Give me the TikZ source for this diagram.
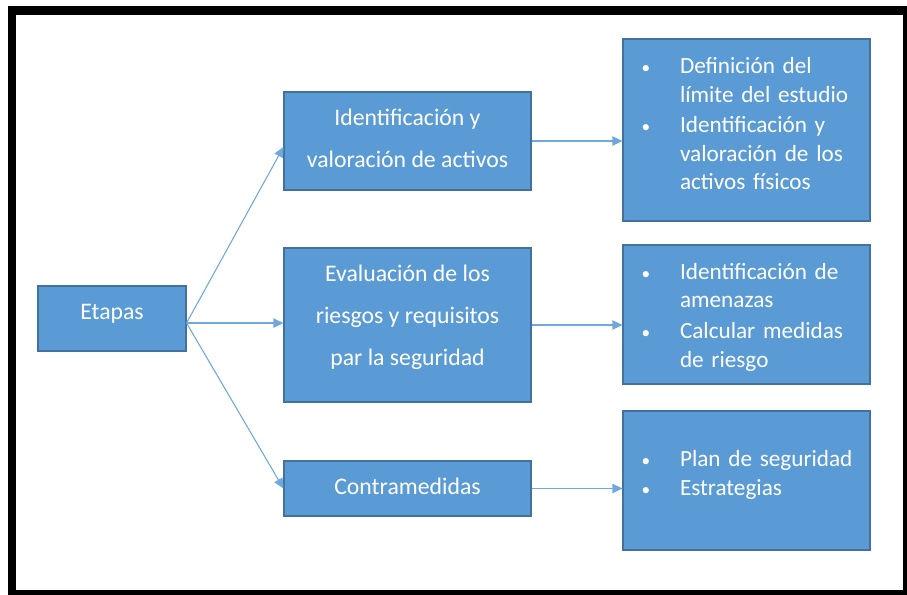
\documentclass[tikz,border=0pt]{standalone}
\usepackage{fontspec}
\setmainfont{Carlito}
\usetikzlibrary{arrows.meta}
\definecolor{boxblue}{HTML}{5B9BD5}
\definecolor{boxedge}{HTML}{41719C}
\definecolor{arrowblue}{HTML}{6FA8DC}
\newcommand{\bul}{{\fontsize{13}{13}\selectfont\textbullet}}
\newcommand{\btab}{\begin{tabular}{@{\hspace*{14pt}}p{28.75pt}@{}l@{}}}
\begin{document}
\begin{tikzpicture}[x=0.75pt,y=-0.75pt,
  box/.style={draw=boxedge, fill=boxblue, line width=0.8pt, text=white, inner sep=0pt,
    font=\fontsize{17.8}{31.5}\selectfont, align=center},
  lbox/.style={box, minimum width=185.25pt},
  rbox/.style={box, minimum width=185.25pt, text width=185.25pt, align=left,
    font=\fontsize{17.4}{21.4}\selectfont},
  conn/.style={draw=arrowblue, line width=0.8pt, -{Triangle[length=7.5pt,width=7pt]}}]
\useasboundingbox (0,0) rectangle (907,595);
% frame
\fill[black] (8,6) rectangle (907,595);
\fill[white] (16,15) rectangle (903,590);
% nodes
\node[box, minimum width=111pt, minimum height=48.75pt, text depth=10pt] (et) at (112,318.5) {Etapas};
\node[lbox, minimum height=73.5pt, text depth=4.5pt] (b1) at (407.5,141) {Identificación y\\valoración de activos};
\node[lbox, minimum height=115.5pt, text depth=14pt] (b2) at (407.5,325) {Evaluación de los\\riesgos y requisitos\\par la seguridad};
\node[lbox, minimum height=41.25pt, text depth=3pt] (b3) at (407.5,488.5) {Contramedidas};
\node[rbox, minimum height=136.5pt] (r1) at (746.5,130) {%
  \btab
  \bul & Definición del\\ & límite del estudio\\[1.5pt]
  \bul & Identificación y\\ & valoración de los\\ & activos físicos\\[6pt]
  \end{tabular}};
\node[rbox, minimum height=104.25pt] (r2) at (746.5,314.5) {%
  \btab
  \noalign{\vskip 4.5pt}
  \bul & Identificación de\\ & amenazas\\[1.5pt]
  \bul & Calcular medidas\\ & de riesgo
  \end{tabular}};
\node[rbox, minimum height=104.25pt] (r3) at (746.5,480.5) {%
  \btab
  \bul & Plan de seguridad\\
  \bul & Estrategias\\[7.5pt]
  \end{tabular}};
% connectors
\coordinate (eo) at ([yshift=-3.4pt]et.east);
\draw[conn] (eo) -- ([yshift=-4.5pt]b1.west);
\draw[conn] (eo) -- (eo -| b2.west);
\draw[conn] (eo) -- (b3.west);
\draw[conn] (b1.east) -- (b1.east -| r1.west);
\draw[conn] (b2.east) -- (b2.east -| r2.west);
\draw[conn] (b3.east) -- (b3.east -| r3.west);
\end{tikzpicture}
\end{document}
